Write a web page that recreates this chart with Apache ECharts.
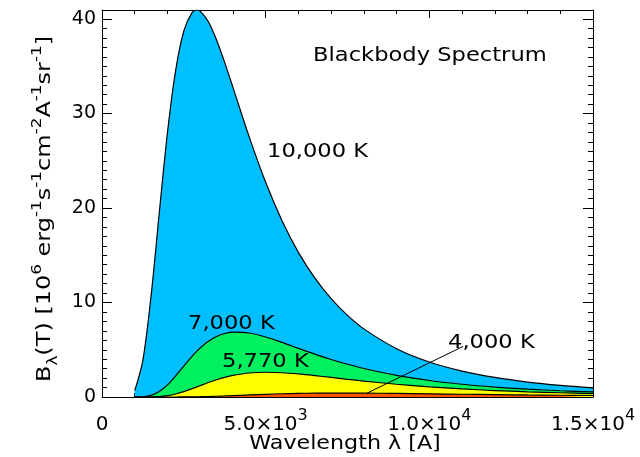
<!DOCTYPE html>
<html>
<head>
<meta charset="utf-8">
<script src="https://cdn.jsdelivr.net/npm/echarts@6/dist/echarts.min.js"></script>
<style>
  html, body { margin: 0; padding: 0; background: #fff; }
  #chart { width: 640px; height: 457px; }
</style>
</head>
<body>
<div id="chart"></div>
<script>
// Wavelength grid (Angstrom)
const wavelength = [1000,1250,1500,1750,2000,2250,2500,2750,2900,3000,3250,3500,3750,4000,4500,5000,5500,6000,6500,7000,7500,8000,9000,10000,11000,12000,13000,14000,15000];
// B_lambda(T) in 10^6 erg s^-1 cm^-2 A^-1 sr^-1
const b10000 = [0.67,3.91,10.71,19.51,27.98,34.56,38.74,40.68,40.96,40.84,39.72,37.79,35.39,32.77,27.50,22.72,18.66,15.31,12.60,10.41,8.64,7.21,5.11,3.70,2.74,2.07,1.58,1.23,0.97];
const b7000  = [0.0014,0.028,0.176,0.575,1.281,2.227,3.279,4.300,4.855,5.191,5.897,6.403,6.717,6.863,6.772,6.352,5.775,5.149,4.537,3.971,3.463,3.015,2.288,1.749,1.350,1.053,0.831,0.663,0.534];
const b5770  = [0.0000,0.0009,0.0095,0.047,0.143,0.318,0.568,0.874,1.071,1.204,1.530,1.827,2.082,2.286,2.541,2.619,2.569,2.438,2.263,2.069,1.873,1.685,1.347,1.073,0.855,0.685,0.552,0.449,0.367];
const b4000  = [0,0,0,0.0001,0.0006,0.0024,0.0069,0.0158,0.0238,0.0304,0.0513,0.078,0.110,0.145,0.218,0.287,0.342,0.383,0.407,0.418,0.418,0.410,0.378,0.336,0.292,0.251,0.215,0.184,0.157];

const seriesNames = ['10,000 K','7,000 K','5,770 K','4,000 K'];
const xTickValues = [0,5000,10000,15000];
const xTickMantissa = ['0','5.0×10','1.0×10','1.5×10'];
const xTickExponent = ['','3','4','4'];
const yTickValues = [0,10,20,30,40];
// pointer from "4,000 K" label to its curve
const pointerFrom = [11030, 5.35];
const pointerTo = [8100, 0.41];

const FONT = '"DejaVu Sans", sans-serif';
const yMax = Math.max.apply(null, b10000);

function pairs(arr) { return wavelength.map((w, i) => [w, arr[i]]); }

const chart = echarts.init(document.getElementById('chart'), null, {renderer: 'canvas'});

const tickStyle = {color: '#000', width: 1};
function xAxisCfg(pos, labels) {
  return {
    type: 'value', position: pos, min: 0, max: 15000, interval: 5000,
    axisLine: {show: true, onZero: false, lineStyle: {color: '#000', width: 1}},
    axisTick: {show: true, inside: true, length: 8, lineStyle: tickStyle},
    minorTick: {show: true, splitNumber: 5, length: 4, lineStyle: tickStyle},
    splitLine: {show: false}, minorSplitLine: {show: false},
    axisLabel: labels ? {
      show: true, margin: 11, color: '#000', fontFamily: FONT, fontSize: 20,
      formatter: function (v) {
        const i = xTickValues.indexOf(v);
        if (i < 0) return '';
        if (!xTickExponent[i]) return '{m|' + xTickMantissa[i] + '}';
        return '{m|' + xTickMantissa[i] + '}{e|' + xTickExponent[i] + '}';
      },
      rich: {
        m: {fontFamily: FONT, fontSize: 20, color: '#000', lineHeight: 27, verticalAlign: 'bottom'},
        e: {fontFamily: FONT, fontSize: 16, color: '#000', lineHeight: 16, verticalAlign: 'top'}
      }
    } : {show: false}
  };
}
function yMajorCfg(pos, labels) {
  return {
    type: 'value', position: pos, min: 0, max: yMax, interval: 10,
    axisLine: {show: true, onZero: false, lineStyle: {color: '#000', width: 1}},
    axisTick: {show: true, inside: true, length: 10, lineStyle: tickStyle},
    splitLine: {show: false},
    axisLabel: labels ? {
      show: true, margin: 6, color: '#000', fontFamily: FONT, fontSize: 19,
      showMaxLabel: false,
      formatter: function (v) { return yTickValues.indexOf(v) >= 0 ? String(v) : ''; }
    } : {show: false}
  };
}
function yMinorCfg(pos) {
  return {
    type: 'value', position: pos, min: 0, max: yMax, interval: 1,
    axisLine: {show: false, onZero: false},
    axisTick: {show: true, inside: true, length: 5, lineStyle: tickStyle},
    splitLine: {show: false},
    axisLabel: {show: false}
  };
}

const fills = ['#00BFFF', '#00F060', '#FFFF00', '#FF5500'];
const datasets = [b10000, b7000, b5770, b4000];

const series = datasets.map((arr, k) => ({
  type: 'line', name: seriesNames[k], xAxisIndex: 0, yAxisIndex: 0,
  data: pairs(arr), symbol: 'none', smooth: 0.3,
  lineStyle: {color: '#000', width: 1.2},
  itemStyle: {color: fills[k]},
  areaStyle: {color: fills[k], opacity: 1},
  z: 2 + k, silent: true
}));
series[3].markLine = {
  silent: true, symbol: ['none', 'none'],
  label: {show: false},
  lineStyle: {color: '#000', width: 1, type: 'solid'},
  data: [[{coord: pointerFrom}, {coord: pointerTo}]]
};

const annotFont = '20px ' + FONT;
function annot(text, x, y) {
  return {
    type: 'text', x: x, y: y, scaleX: 1.13, z: 100,
    style: {text: text, font: annotFont, fill: '#000',
      align: 'left', verticalAlign: 'middle', textAlign: 'left', textVerticalAlign: 'middle'}
  };
}

const option = {
  animation: false,
  backgroundColor: '#fff',
  grid: {left: 102, right: 47, top: 10, bottom: 60, containLabel: false},
  xAxis: [xAxisCfg('bottom', true), xAxisCfg('top', false)],
  yAxis: [yMajorCfg('left', true), yMinorCfg('left'), yMajorCfg('right', false), yMinorCfg('right')],
  series: series,
  graphic: [
    annot('Blackbody Spectrum', 313, 56),
    annot(seriesNames[0], 267, 152),
    annot(seriesNames[1], 188, 324),
    annot(seriesNames[2], 222, 362),
    annot(seriesNames[3], 448, 343),
    {
      type: 'text', x: 345, y: 444, scaleX: 1.11, z: 100,
      style: {text: 'Wavelength λ [A]', font: annotFont, fill: '#000',
        align: 'center', verticalAlign: 'middle', textAlign: 'center', textVerticalAlign: 'middle'}
    },
    {
      type: 'text', x: 45, y: 209, rotation: Math.PI / 2, scaleX: 1.2, z: 100,
      style: {
        text: '{n|B}{b|λ}{n|(T) [10}{p|6}{n| erg}{p|-1}{n|s}{p|-1}{n|cm}{p|-2}{n|A}{p|-1}{n|sr}{p|-1}{n|]}',
        align: 'center', verticalAlign: 'middle', textAlign: 'center', textVerticalAlign: 'middle',
        rich: {
          n: {fontFamily: FONT, fontSize: 20, fill: '#000', color: '#000', lineHeight: 30, verticalAlign: 'middle'},
          p: {fontFamily: FONT, fontSize: 14, fill: '#000', color: '#000', lineHeight: 14, verticalAlign: 'top'},
          b: {fontFamily: FONT, fontSize: 14, fill: '#000', color: '#000', lineHeight: 14, verticalAlign: 'bottom'}
        }
      }
    }
  ]
};
chart.setOption(option);
</script>
</body>
</html>
